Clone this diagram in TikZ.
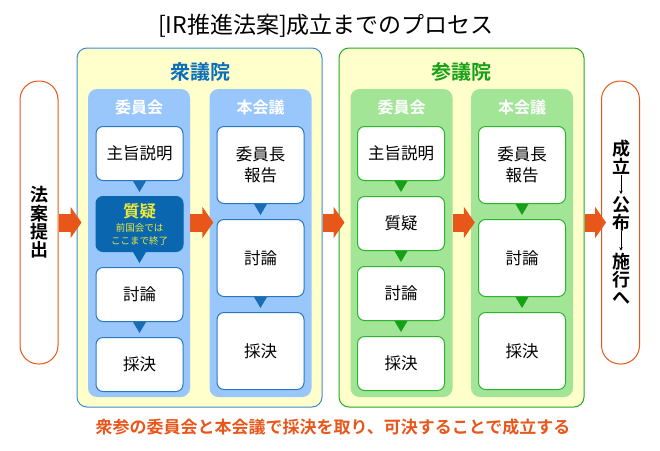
\documentclass[tikz,border=0pt]{standalone}
\usepackage{fontspec}
\setmainfont{Noto Sans CJK JP}[BoldFont={Noto Sans CJK JP Bold}]
\usepackage{xcolor}
\usepackage{tikz}
\usetikzlibrary{arrows.meta,positioning}

\definecolor{paleYellow}{HTML}{FFFFCC}
\definecolor{shuLine}{HTML}{3D8BD1}
\definecolor{shuText}{HTML}{0A6EB8}
\definecolor{shuCol}{HTML}{99C7FB}
\definecolor{shuEdge}{HTML}{2878C0}
\definecolor{shuTri}{HTML}{1A6DB4}
\definecolor{shuDark}{HTML}{0A66AE}
\definecolor{qYellow}{HTML}{ECEA3A}
\definecolor{sanLine}{HTML}{22AA22}
\definecolor{sanText}{HTML}{18A018}
\definecolor{sanCol}{HTML}{A2E597}
\definecolor{sanEdge}{HTML}{2DB42D}
\definecolor{sanTri}{HTML}{17A017}
\definecolor{procOrange}{HTML}{E8561A}

\begin{document}
\begin{tikzpicture}[x=1pt,y=-1pt,
      house/.style={draw,rounded corners=10pt,fill=paleYellow,line width=1pt,
                    minimum width=245pt,minimum height=359pt,inner sep=0pt},
      col/.style={rounded corners=9pt,minimum width=102pt,minimum height=308pt,inner sep=0pt},
      stage/.style={draw,fill=white,rounded corners=7pt,line width=1pt,minimum width=87pt,
                    inner sep=0pt,align=center,font=\fontsize{16.5}{21}\selectfont},
      shuStage/.style={stage,draw=shuEdge},
      sanStage/.style={stage,draw=sanEdge},
      houseName/.style={font=\fontsize{20}{20}\selectfont\bfseries},
      colName/.style={font=\fontsize{16}{16}\selectfont\bfseries,text=white},
      pill/.style={draw=procOrange,fill=white,line width=1pt,rounded corners=18.5pt,
                   minimum width=38pt,minimum height=283pt,inner sep=0pt,align=center,
                   font=\fontsize{18}{18.3}\selectfont\bfseries},
      pillText/.style={inner sep=0pt,align=center,font=\fontsize{18}{18}\selectfont\bfseries},
      fat/.style={procOrange,line width=18pt,-{Triangle[length=11pt,width=31pt]}},
      thin/.style={line width=0.8pt,-{Stealth[length=3.5pt,width=3.5pt]},shorten <=0.5pt,shorten >=2pt},
  ]
  \useasboundingbox (0,0) rectangle (660,450);

  % Title
  \node[font=\fontsize{23}{23}\selectfont] (title) at (326,26) {[IR推進法案]成立までのプロセス};

  % Houses
  \node[house,draw=shuLine] (shuu) at (199.5,227.5) {};
  \node[house,draw=sanLine] (san) at (461.5,227.5) {};
  \node[houseName,text=shuText] (shuuT) at (200,72) {衆議院};
  \node[houseName,text=sanText] (sanT) at (461.5,72) {参議院};

  % Columns
  \node[col,fill=shuCol] (shuC) at (139,243) {};
  \node[col,fill=shuCol] (shuP) at (260.5,243) {};
  \node[col,fill=sanCol] (sanC) at (401.5,243) {};
  \node[col,fill=sanCol] (sanP) at (522,243) {};
  \node[colName] (shuCT) at (139,107) {委員会};
  \node[colName] (shuPT) at (260.5,107) {本会議};
  \node[colName] (sanCT) at (401.5,107) {委員会};
  \node[colName] (sanPT) at (522,107) {本会議};

  % Shugiin committee
  \node[shuStage,minimum height=54pt,anchor=north] (s1) at (139.5,126) {主旨説明};
  \node[stage,draw=shuDark,fill=shuDark,text=qYellow,minimum height=55pt,below=15pt of s1,
        font=\fontsize{9.5}{12.5}\selectfont] (s2)
    {{\fontsize{16.5}{18}\selectfont\bfseries 質疑}\\[2pt]前国会では\\ここまで終了};
  \node[shuStage,minimum height=54pt,below=15pt of s2] (s3) {討論};
  \node[shuStage,minimum height=54pt,below=15pt of s3] (s4) {採決};

  % Shugiin plenary
  \node[shuStage,minimum height=77pt,anchor=north] (p1) at (260.5,126) {委員長\\報告};
  \node[shuStage,minimum height=77pt,below=15pt of p1] (p2) {討論};
  \node[shuStage,minimum height=77pt,below=15pt of p2] (p3) {採決};

  % Sangiin committee
  \node[sanStage,minimum height=54pt,anchor=north] (t1) at (401,126) {主旨説明};
  \node[sanStage,minimum height=54pt,below=15pt of t1] (t2) {質疑};
  \node[sanStage,minimum height=54pt,below=15pt of t2] (t3) {討論};
  \node[sanStage,minimum height=54pt,below=15pt of t3] (t4) {採決};

  % Sangiin plenary
  \node[sanStage,minimum height=77pt,anchor=north] (q1) at (522,126) {委員長\\報告};
  \node[sanStage,minimum height=77pt,below=15pt of q1] (q2) {討論};
  \node[sanStage,minimum height=77pt,below=15pt of q2] (q3) {採決};

  % Step markers
  \foreach \a in {s1,s3,p1,p2}
    \fill[shuTri] (\a.south) +(-6.5,0) -- +(6.5,0) -- +(0,11) -- cycle;
  \fill[shuDark] (s2.south) +(-6.5,0) -- +(6.5,0) -- +(0,11) -- cycle;
  \foreach \a in {t1,t2,t3,q1,q2}
    \fill[sanTri] (\a.south) +(-6.5,0) -- +(6.5,0) -- +(0,11) -- cycle;

  % Start and end
  \node[pill] (pillL) at (39,222.5) {法\\案\\提\\出};
  \node[pill,font=\relax] (pillR) at (620.5,222.5) {};
  \node[pillText] (done) at (621,157.5) {成\\立};
  \node[pillText] (promul) at (621,213.5) {公\\布};
  \node[pillText] (enforce) at (621,278.5) {施\\行\\へ};
  \draw[thin] (done) -- (promul);
  \draw[thin] (promul) -- (enforce);

  % Flow arrows
  \draw[fat] (pillL.east) -- ([xshift=5pt]shuu.west |- pillL.east);
  \draw[fat] (shuC.east |- pillL.east) -- ([xshift=4pt]shuP.west |- pillL.east);
  \draw[fat] (shuu.east |- pillL.east) -- ([xshift=6pt]san.west |- pillL.east);
  \draw[fat] (sanC.east |- pillL.east) -- ([xshift=4pt]sanP.west |- pillL.east);
  \draw[fat] (san.east |- pillR.west) -- ([xshift=5pt]pillR.west);

  % Note
  \node[font=\fontsize{17}{17}\selectfont\bfseries,text=procOrange] (note) at (333,427)
    {衆参の委員会と本会議で採決を取り、可決することで成立する};
\end{tikzpicture}
\end{document}
